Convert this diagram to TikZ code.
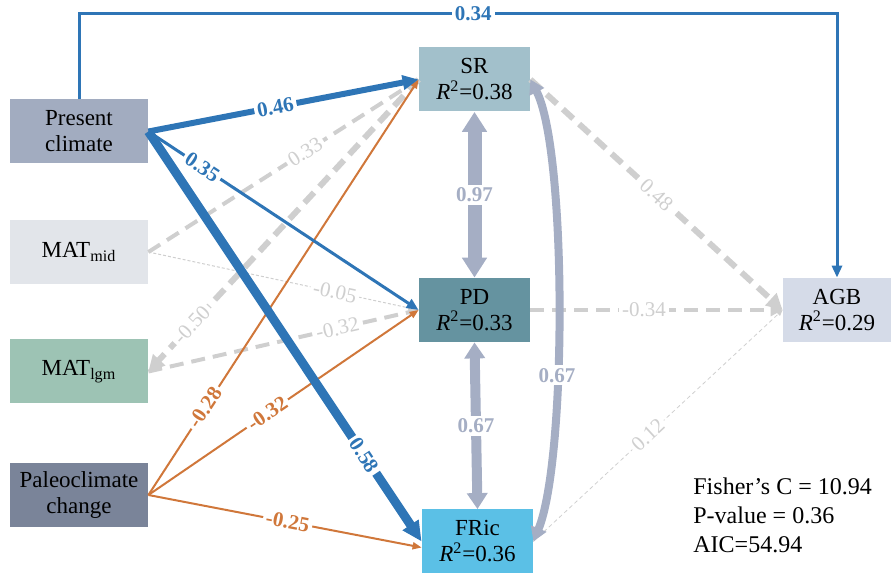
\documentclass[tikz,border=0pt]{standalone}
\usepackage{fontspec}
\setmainfont{Liberation Serif}
\usetikzlibrary{arrows.meta}

\definecolor{cPres}{HTML}{A2ACC0}
\definecolor{cMid}{HTML}{E2E5EA}
\definecolor{cLgm}{HTML}{9DC3B4}
\definecolor{cPaleo}{HTML}{7A8499}
\definecolor{cSR}{HTML}{A2C0CB}
\definecolor{cPD}{HTML}{6593A0}
\definecolor{cFRic}{HTML}{5BC0E6}
\definecolor{cAGB}{HTML}{D5DBE8}
\definecolor{cblue}{HTML}{2E75B6}
\definecolor{corange}{HTML}{D0773A}
\definecolor{cgrey}{HTML}{CFCFCF}
\definecolor{ccor}{HTML}{A5AEC4}

\tikzset{
  blueln/.style={draw=cblue},
  orangeln/.style={draw=corange,line width=1pt,-{Triangle[length=4.5pt,width=3.5pt]}},
  greyln/.style={draw=cgrey,dash pattern=on 7pt off 4pt,-{Triangle[length=5pt,width=4.5pt]}},
  corr/.style={draw=ccor,{Triangle[length=10pt,width=12pt]}-{Triangle[length=10pt,width=12pt]}}
}

\begin{document}
\begin{tikzpicture}[x=0.5pt,y=-0.5pt,
  var/.style={minimum width=69pt,minimum height=32pt,inner sep=1pt,align=center,
    font=\fontsize{11.5}{13}\selectfont},
  resp/.style={var,minimum width=55.5pt},
  lab/.style={fill=white,inner sep=1.5pt,font=\bfseries\fontsize{10.5}{12}\selectfont},
  glab/.style={fill=white,inner sep=1.5pt,text=cgrey,font=\fontsize{10.5}{12}\selectfont}]
\useasboundingbox (0,0) rectangle (891,583);

% predictors
\node[var,fill=cPres] (Present) at (79,131.5) {Present\\climate};
\node[var,fill=cMid] (MATmid) at (79,252) {MAT\textsubscript{mid}};
\node[var,fill=cLgm] (MATlgm) at (79,371.5) {MAT\textsubscript{lgm}};
\node[var,fill=cPaleo] (Paleo) at (79,495) {Paleoclimate\\change};

% diversity and biomass
\node[resp,fill=cSR] (SR) at (474.5,79.5) {SR\\\textit{R}\textsuperscript{2}=0.38};
\node[resp,fill=cPD] (PD) at (474.5,310) {PD\\\textit{R}\textsuperscript{2}=0.33};
\node[resp,fill=cFRic] (FRic) at (477.5,541.5) {FRic\\\textit{R}\textsuperscript{2}=0.36};
\node[var,minimum width=54pt,fill=cAGB] (AGB) at (837,310) {AGB\\\textit{R}\textsuperscript{2}=0.29};
\coordinate (top) at (837,14);

\node[anchor=north west,align=left,inner sep=0pt,font=\fontsize{12}{14.5}\selectfont]
  (fit) at (693,477) {Fisher's C = 10.94\\P-value = 0.36\\AIC=54.94};

% grey paths
\draw[greyln,line width=2pt] (MATmid.east) -- node[glab,sloped,pos=0.58]{0.33} (SR.west);
\draw[greyln,line width=0.5pt,dash pattern=on 1.5pt off 1pt,-{Triangle[length=3pt,width=2.5pt]}]
  (MATmid.east) -- node[glab,sloped,pos=0.69]{-0.05} (PD.west);
\draw[greyln,line width=3pt,-{Triangle[length=8pt,width=8pt]}]
  (SR.west) -- node[glab,sloped,pos=0.84]{-0.50} (MATlgm.east);
\draw[greyln,line width=2pt] (MATlgm.east) -- node[glab,sloped,pos=0.7]{-0.32} (PD.west);
\draw[greyln,line width=3pt,-{Triangle[length=8pt,width=8pt]}]
  (SR.east) -- node[glab,sloped,pos=0.5]{0.48} (AGB.west);
\draw[greyln,line width=2pt,-{Triangle[length=6pt,width=6pt]}]
  (PD.east) -- node[glab,pos=0.45]{-0.34} (AGB.west);
\draw[greyln,line width=0.4pt,dash pattern=on 2pt off 1.5pt,-{Triangle[length=3pt,width=2.5pt]}]
  (FRic.east) -- node[glab,sloped,pos=0.46]{0.12} (AGB.west);

% correlations
\draw[corr,line width=7pt] (SR.south) -- node[lab,text=ccor]{0.97} (PD.north);
\draw[corr,line width=5pt,{Triangle[length=8pt,width=10pt]}-{Triangle[length=8pt,width=10pt]}]
  (PD.south) -- node[lab,text=ccor]{0.67} (FRic.north);
\draw[corr,line width=4pt,{Triangle[length=7pt,width=8pt]}-{Triangle[length=7pt,width=8pt]}]
  (SR.east) .. controls (567,150) and (567,460) .. node[lab,text=ccor,pos=0.62]{0.67} (FRic.east);

% paleoclimate paths
\draw[orangeln] (Paleo.east) -- node[lab,sloped,text=corange,pos=0.21]{-0.28} (SR.west);
\draw[orangeln] (Paleo.east) -- node[lab,sloped,text=corange,pos=0.44]{-0.32} (PD.west);
\draw[orangeln] (Paleo.east) -- node[lab,sloped,text=corange,pos=0.51]{-0.25} ([yshift=-3pt]FRic.west);

% present climate paths
\draw[blueln,line width=1.5pt,-{Triangle[length=6pt,width=5pt]}]
  (Present.east) -- node[lab,sloped,text=cblue,pos=0.2]{0.35} (PD.west);
\draw[blueln,line width=3pt,-{Triangle[length=8pt,width=7pt]}]
  (Present.east) -- node[lab,sloped,text=cblue,pos=0.47]{0.46} (SR.west);
\draw[blueln,line width=4.5pt,-{Triangle[length=10pt,width=9pt]}]
  (Present.east) -- node[lab,sloped,text=cblue,pos=0.79]{0.58} (FRic.west);
\draw[blueln,line width=1.5pt,-{Triangle[length=6pt,width=5pt]}]
  (Present.north) |- node[lab,text=cblue,pos=0.76]{0.34} (top) -- (AGB.north);
\end{tikzpicture}
\end{document}
